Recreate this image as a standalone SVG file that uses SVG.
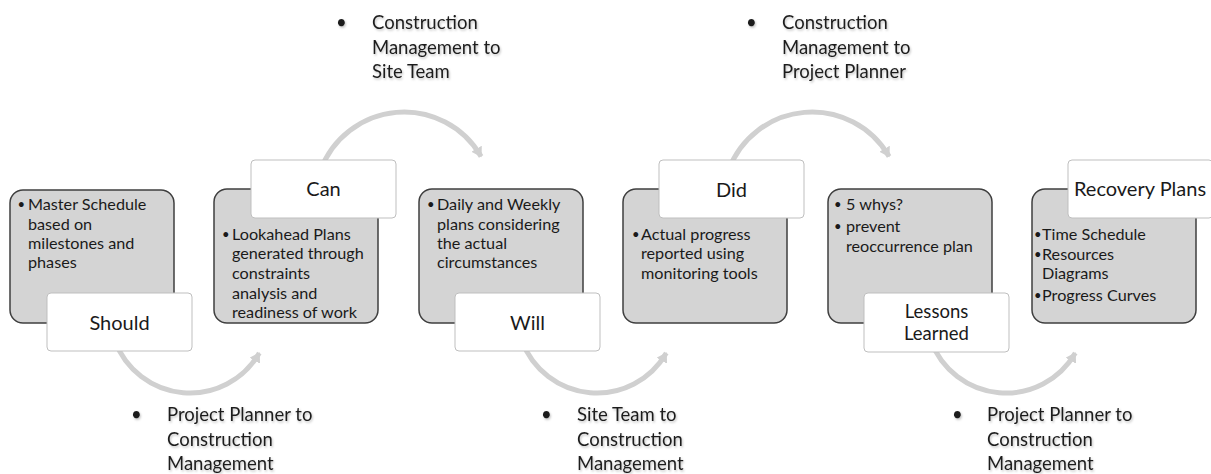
<svg xmlns="http://www.w3.org/2000/svg" width="1211" height="474" viewBox="0 0 1211 474">
<defs>
<style>
.box{fill:#d4d4d4;stroke:#3f3f3f;stroke-width:1.5}
.lbl{fill:#ffffff;stroke:#bfbfbf;stroke-width:1}
.bt{font-family:Lato,"Liberation Sans",sans-serif;font-size:16.2px;fill:#1a1a1a}
.bu{font-family:Lato,"Liberation Sans",sans-serif;font-size:13px;fill:#1a1a1a}
.lt{font-family:Lato,"Liberation Sans",sans-serif;font-size:20px;fill:#1a1a1a;text-anchor:middle}
.cap{font-family:Lato,"Liberation Sans",sans-serif;font-size:18.5px;fill:#1f1f1f;filter:url(#sh)}
.arc{fill:none;stroke:#d0d0d0;stroke-width:5;marker-end:url(#ah)}
</style>
<filter id="sh" x="-10%" y="-20%" width="120%" height="150%">
<feDropShadow dx="1" dy="1.5" stdDeviation="1" flood-color="#000" flood-opacity="0.25"/>
</filter>
<marker id="ah" markerUnits="userSpaceOnUse" markerWidth="14" markerHeight="14" refX="9" refY="6" orient="auto">
<path d="M0,0 L10,6 L0,12 Z" fill="#d0d0d0"/>
</marker>
</defs>

<g id="connectors">
<path class="arc" d="M114.8,340.4 A80,80 0 0 0 259.3,353"/>
<path class="arc" d="M521.8,340.4 A80,80 0 0 0 666.3,353"/>
<path class="arc" d="M930.8,340.4 A80,80 0 0 0 1075.3,353"/>
<path class="arc" d="M320.4,170.6 A89,89 0 0 1 481.1,156.5"/>
<path class="arc" d="M728.4,170.6 A89,89 0 0 1 889.1,156.5"/>
</g>

<g id="node-should">
<rect class="box" x="10" y="190" width="164" height="133" rx="13"/>
<text class="bu" x="17.5" y="209">•</text>
<text class="bt" x="28" y="210">Master Schedule</text>
<text class="bt" x="28" y="230">based on</text>
<text class="bt" x="28" y="249">milestones and</text>
<text class="bt" x="28" y="268">phases</text>
<rect class="lbl" x="47" y="293" width="145" height="58" rx="4"/>
<text class="lt" x="119.5" y="330">Should</text>
</g>

<g id="node-can">
<rect class="box" x="214" y="189" width="164" height="134" rx="13"/>
<rect class="lbl" x="251" y="160" width="145" height="58" rx="4"/>
<text class="lt" x="323.5" y="196">Can</text>
<text class="bu" x="222" y="239">•</text>
<text class="bt" x="232" y="240">Lookahead Plans</text>
<text class="bt" x="232" y="259">generated through</text>
<text class="bt" x="232" y="279">constraints</text>
<text class="bt" x="232" y="299">analysis and</text>
<text class="bt" x="232" y="318">readiness of work</text>
</g>

<g id="node-will">
<rect class="box" x="419" y="189" width="164" height="134" rx="13"/>
<text class="bu" x="427" y="209">•</text>
<text class="bt" x="437" y="210">Daily and Weekly</text>
<text class="bt" x="437" y="230">plans considering</text>
<text class="bt" x="437" y="249">the actual</text>
<text class="bt" x="437" y="268">circumstances</text>
<rect class="lbl" x="455" y="293" width="145" height="58" rx="4"/>
<text class="lt" x="527.5" y="330">Will</text>
</g>

<g id="node-did">
<rect class="box" x="623" y="189" width="164" height="134" rx="13"/>
<rect class="lbl" x="659" y="160" width="145" height="58" rx="4"/>
<text class="lt" x="731.5" y="197">Did</text>
<text class="bu" x="632" y="239">•</text>
<text class="bt" x="641" y="240">Actual progress</text>
<text class="bt" x="641" y="259">reported using</text>
<text class="bt" x="641" y="279">monitoring tools</text>
</g>

<g id="node-lessons">
<rect class="box" x="828" y="189" width="164" height="134" rx="13"/>
<text class="bu" x="834" y="209">•</text>
<text class="bt" x="846" y="210">5 whys?</text>
<text class="bu" x="834" y="231">•</text>
<text class="bt" x="846" y="232">prevent</text>
<text class="bt" x="846" y="252">reoccurrence plan</text>
<rect class="lbl" x="864" y="293" width="145" height="59" rx="4"/>
<text class="lt" x="936.5" y="318" style="font-size:18.5px"><tspan x="936.5">Lessons</tspan><tspan x="936.5" dy="22">Learned</tspan></text>
</g>

<g id="node-recovery">
<rect class="box" x="1032" y="189" width="164" height="134" rx="13"/>
<rect class="lbl" x="1068" y="160" width="145" height="58" rx="4"/>
<text class="lt" x="1140" y="196">Recovery Plans</text>
<text class="bu" x="1034" y="239">•</text>
<text class="bt" x="1042" y="240">Time Schedule</text>
<text class="bu" x="1034" y="259">•</text>
<text class="bt" x="1042" y="260">Resources</text>
<text class="bt" x="1042" y="279">Diagrams</text>
<text class="bu" x="1034" y="300">•</text>
<text class="bt" x="1042" y="301">Progress Curves</text>
</g>

<g id="captions">
<text class="cap" x="336" y="29">•</text>
<text class="cap" x="372" y="29">Construction</text>
<text class="cap" x="372" y="54">Management to</text>
<text class="cap" x="372" y="78">Site Team</text>

<text class="cap" x="746" y="29">•</text>
<text class="cap" x="782" y="29">Construction</text>
<text class="cap" x="782" y="54">Management to</text>
<text class="cap" x="782" y="78">Project Planner</text>

<text class="cap" x="131" y="421">•</text>
<text class="cap" x="167" y="421">Project Planner to</text>
<text class="cap" x="167" y="446">Construction</text>
<text class="cap" x="167" y="470">Management</text>

<text class="cap" x="541" y="421">•</text>
<text class="cap" x="577" y="421">Site Team to</text>
<text class="cap" x="577" y="446">Construction</text>
<text class="cap" x="577" y="470">Management</text>

<text class="cap" x="952" y="421">•</text>
<text class="cap" x="987" y="421">Project Planner to</text>
<text class="cap" x="987" y="446">Construction</text>
<text class="cap" x="987" y="470">Management</text>
</g>
</svg>
